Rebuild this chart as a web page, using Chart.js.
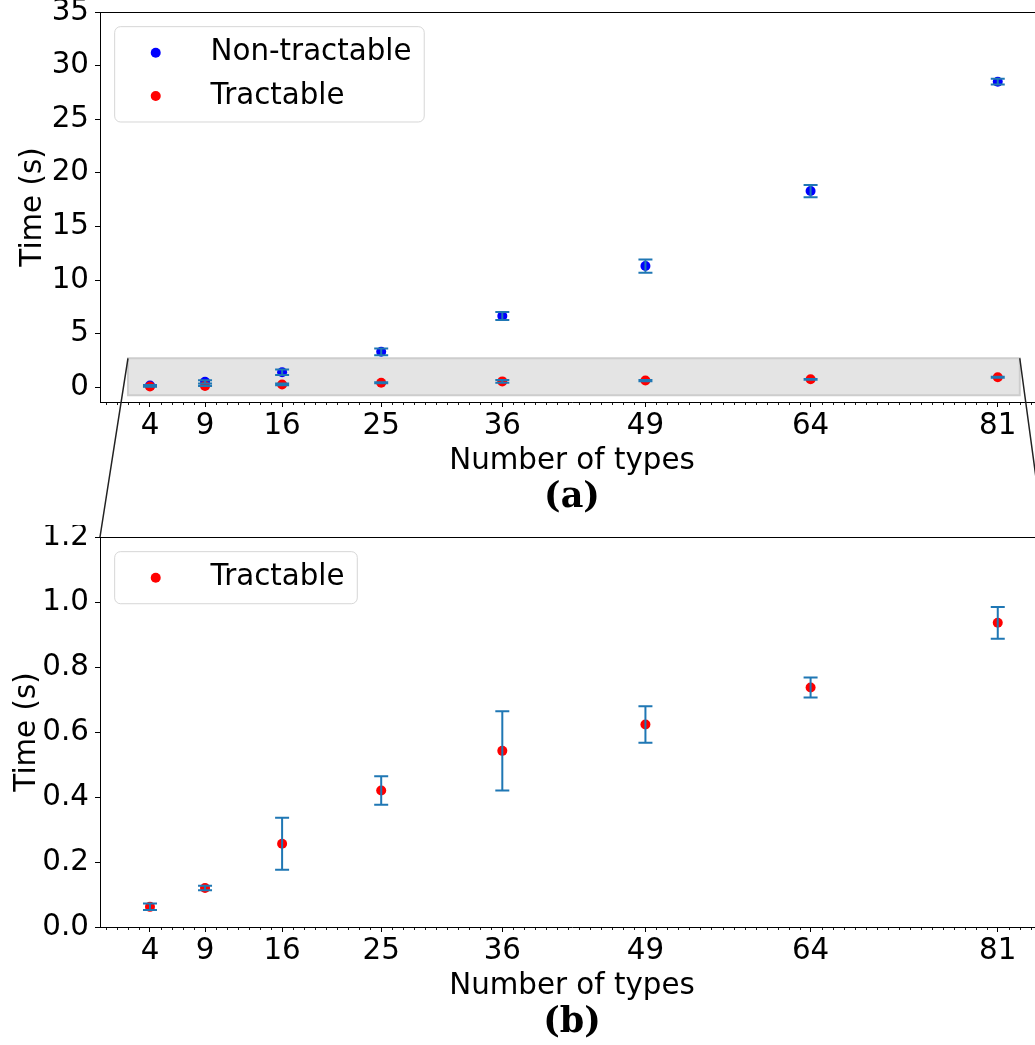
<!DOCTYPE html>
<html>
<head>
<meta charset="utf-8">
<script src="https://cdn.jsdelivr.net/npm/chart.js@4.4.1/dist/chart.umd.min.js"></script>
<style>
  html, body { margin: 0; padding: 0; background: #fff; overflow: hidden; width: 1035px; height: 1045px; }
  #wrap { position: relative; width: 1035px; height: 1045px; overflow: hidden; background: #fff; }
  canvas { position: absolute; left: 0; }
  #topChart { top: 0; z-index: 2; }
  #bottomChart { top: 525px; z-index: 1; }
</style>
</head>
<body>
<div id="wrap">
  <canvas id="bottomChart" width="1050" height="525"></canvas>
  <canvas id="topChart" width="1050" height="540"></canvas>
</div>
<script>
// Measured run times (seconds) per number of types
const numTypes = [4, 9, 16, 25, 36, 49, 64, 81];
const nonTractableTime = [0.15, 0.5, 1.4, 3.3, 6.65, 11.3, 18.3, 28.5];
const nonTractableErr = [0.05, 0.15, 0.26, 0.31, 0.37, 0.62, 0.57, 0.27];
const tractableTime = [0.062, 0.12, 0.256, 0.42, 0.542, 0.623, 0.737, 0.936];
const tractableErr = [0.01, 0.007, 0.08, 0.044, 0.122, 0.056, 0.031, 0.049];

// Axis ticks
const xTicks = [4, 9, 16, 25, 36, 49, 64, 81];
const yTicksTop = [0, 5, 10, 15, 20, 25, 30, 35];
const yTicksBottom = [0, 0.2, 0.4, 0.6, 0.8, 1.0, 1.2];

// Highlighted region of the upper panel that the lower panel enlarges
const zoomRegionX = [2, 83];
const zoomRegionY = [-0.75, 2.7];

const FS = 29.33;
const TITLE_FS = 35;
const BLUE = '#0000ff';
const RED = '#ff0000';
const ERR_COLOR = '#1f77b4';

Chart.defaults.font.family = 'DejaVu Sans';
Chart.defaults.color = '#000';

function points(xs, ys) {
  return xs.map((x, i) => ({ x: x, y: ys[i] }));
}

// Vertical error bars with caps, drawn on top of the markers
const errorBars = {
  id: 'errorBars',
  afterDatasetsDraw(chart) {
    const ctx = chart.ctx;
    const xs = chart.scales.x, ys = chart.scales.y;
    ctx.save();
    ctx.strokeStyle = ERR_COLOR;
    ctx.lineWidth = 2;
    chart.data.datasets.forEach(ds => {
      if (!ds.errors) return;
      ds.data.forEach((p, i) => {
        const e = ds.errors[i];
        const px = xs.getPixelForValue(p.x);
        const y1 = ys.getPixelForValue(p.y - e);
        const y2 = ys.getPixelForValue(p.y + e);
        ctx.beginPath();
        ctx.moveTo(px, y1); ctx.lineTo(px, y2);
        ctx.moveTo(px - 7, y1); ctx.lineTo(px + 7, y1);
        ctx.moveTo(px - 7, y2); ctx.lineTo(px + 7, y2);
        ctx.stroke();
      });
    });
    ctx.restore();
  }
};

// Minor x ticks at every integer and the top spine
const frameAndMinor = {
  id: 'frameAndMinor',
  afterDraw(chart) {
    const ctx = chart.ctx;
    const ca = chart.chartArea;
    const xs = chart.scales.x;
    ctx.save();
    ctx.strokeStyle = '#000';
    ctx.lineWidth = 1;
    ctx.beginPath();
    ctx.moveTo(ca.left, ca.top + 0.5);
    ctx.lineTo(ca.right, ca.top + 0.5);
    ctx.stroke();
    ctx.lineWidth = 0.9;
    ctx.beginPath();
    for (let v = Math.ceil(xs.min); v <= Math.floor(xs.max); v++) {
      if (xTicks.includes(v)) continue;
      const px = Math.round(xs.getPixelForValue(v)) + 0.5;
      ctx.moveTo(px, ca.bottom);
      ctx.lineTo(px, ca.bottom + 3);
    }
    ctx.stroke();
    ctx.restore();
  }
};

// Legend box inside the upper-left corner of the plot area
const insideLegend = {
  id: 'insideLegend',
  afterDraw(chart) {
    const ctx = chart.ctx;
    const ca = chart.chartArea;
    const pad = 0.4 * FS, handle = 2 * FS, gap = 0.8 * FS + 2, spacing = 0.5 * FS, axPad = 0.5 * FS;
    const rowH = 28.6;
    const items = chart.data.datasets.map(d => ({ label: d.label, color: d.backgroundColor }));
    ctx.save();
    ctx.font = FS + 'px "DejaVu Sans"';
    const textW = Math.max(...items.map(it => ctx.measureText(it.label).width));
    const left = ca.left + axPad, top = ca.top + axPad;
    const w = 2 * pad + handle + gap + textW + 1;
    const h = 2 * pad + items.length * rowH + (items.length - 1) * spacing;
    ctx.beginPath();
    ctx.roundRect(left, top, w, h, 0.2 * FS);
    ctx.fillStyle = 'rgba(255,255,255,0.8)';
    ctx.fill();
    ctx.strokeStyle = 'rgba(204,204,204,0.8)';
    ctx.lineWidth = 1;
    ctx.stroke();
    items.forEach((it, i) => {
      const cy = top + pad + i * (rowH + spacing) + rowH / 2;
      ctx.beginPath();
      ctx.arc(left + pad + handle / 2, cy, 5, 0, Math.PI * 2);
      ctx.fillStyle = it.color;
      ctx.fill();
      ctx.fillStyle = '#000';
      ctx.textBaseline = 'middle';
      ctx.textAlign = 'left';
      ctx.fillText(it.label, left + pad + handle + gap, cy);
    });
    ctx.restore();
  }
};

function xScale() {
  return {
    type: 'linear',
    min: -0.54,
    max: 85.2,
    afterBuildTicks: s => { s.ticks = xTicks.map(v => ({ value: v })); },
    afterFit: s => { s.paddingLeft = 0; s.paddingRight = 0; },
    ticks: { autoSkip: false, maxRotation: 0, minRotation: 0, padding: 2, font: { size: FS }, color: '#000' },
    grid: { drawOnChartArea: false, drawTicks: true, tickLength: 5, tickColor: '#000', tickWidth: 1 },
    border: { display: true, color: '#000', width: 1 },
    title: { display: true, text: 'Number of types', font: { size: FS }, color: '#000', padding: { top: -2.8, bottom: 0 } }
  };
}

function yScale(min, max, ticks, fmt, titlePad) {
  return {
    type: 'linear',
    min: min,
    max: max,
    afterBuildTicks: s => { s.ticks = ticks.map(v => ({ value: v })); },
    afterFit: s => { s.width = 100; s.paddingTop = 0; s.paddingBottom = 0; },
    ticks: { padding: 6, font: { size: FS }, color: '#000', callback: fmt },
    grid: { drawOnChartArea: false, drawTicks: true, tickLength: 5, tickColor: '#000', tickWidth: 1 },
    border: { display: true, color: '#000', width: 1 },
    title: { display: true, text: 'Time (s)', font: { size: FS }, color: '#000', padding: { top: titlePad, bottom: 0 } }
  };
}

function panelTitle(text) {
  return {
    display: true,
    text: text,
    position: 'bottom',
    fullSize: false,
    font: { family: 'DejaVu Serif', weight: 'bold', size: TITLE_FS },
    color: '#000',
    padding: { top: -1.6, bottom: 0 }
  };
}

// Lower panel: tractable run times only
const bottomChart = new Chart(document.getElementById('bottomChart'), {
  type: 'scatter',
  data: {
    datasets: [{
      label: 'Tractable',
      data: points(numTypes, tractableTime),
      errors: tractableErr,
      backgroundColor: RED,
      borderWidth: 0,
      pointRadius: 5,
      pointHoverRadius: 5
    }]
  },
  options: {
    responsive: false,
    animation: false,
    events: [],
    layout: { padding: { top: 12, left: 0, right: 6, bottom: 6 } },
    scales: {
      x: xScale(),
      y: yScale(0, 1.2, yTicksBottom, v => v.toFixed(1), 9.6)
    },
    plugins: {
      legend: { display: false },
      tooltip: { enabled: false },
      title: panelTitle('(b)')
    }
  },
  plugins: [errorBars, frameAndMinor, insideLegend]
});

// Shaded zoom region in the upper panel and the lines joining it to the lower panel
const zoomRegion = {
  id: 'zoomRegion',
  beforeDatasetsDraw(chart) {
    const ctx = chart.ctx;
    const xs = chart.scales.x, ys = chart.scales.y;
    const x0 = xs.getPixelForValue(zoomRegionX[0]), x1 = xs.getPixelForValue(zoomRegionX[1]);
    const y0 = ys.getPixelForValue(zoomRegionY[1]), y1 = ys.getPixelForValue(zoomRegionY[0]);
    ctx.save();
    ctx.fillStyle = '#e4e4e4';
    ctx.fillRect(x0, y0, x1 - x0, y1 - y0);
    ctx.strokeStyle = '#cdcdcd';
    ctx.lineWidth = 2;
    ctx.strokeRect(x0, y0, x1 - x0, y1 - y0);
    ctx.restore();
  },
  afterDraw(chart) {
    const ctx = chart.ctx;
    const xs = chart.scales.x, ys = chart.scales.y;
    const x0 = xs.getPixelForValue(zoomRegionX[0]), x1 = xs.getPixelForValue(zoomRegionX[1]);
    const yTop = ys.getPixelForValue(zoomRegionY[1]);
    const offset = bottomChart.canvas.offsetTop - chart.canvas.offsetTop;
    const ba = bottomChart.chartArea;
    ctx.save();
    ctx.strokeStyle = '#222';
    ctx.lineWidth = 1.5;
    ctx.beginPath();
    ctx.moveTo(x0, yTop); ctx.lineTo(ba.left, ba.top + offset);
    ctx.moveTo(x1, yTop); ctx.lineTo(ba.right, ba.top + offset);
    ctx.stroke();
    ctx.restore();
  }
};

// Upper panel: both solver variants
new Chart(document.getElementById('topChart'), {
  type: 'scatter',
  data: {
    datasets: [{
      label: 'Non-tractable',
      data: points(numTypes, nonTractableTime),
      errors: nonTractableErr,
      backgroundColor: BLUE,
      borderWidth: 0,
      pointRadius: 5,
      pointHoverRadius: 5,
      order: 2
    }, {
      label: 'Tractable',
      data: points(numTypes, tractableTime),
      errors: tractableErr,
      backgroundColor: RED,
      borderWidth: 0,
      pointRadius: 5,
      pointHoverRadius: 5,
      order: 1
    }]
  },
  options: {
    responsive: false,
    animation: false,
    events: [],
    layout: { padding: { top: 12, left: 0, right: 6, bottom: 21 } },
    scales: {
      x: xScale(),
      y: yScale(-1.38, 35, yTicksTop, v => String(v), 15.6)
    },
    plugins: {
      legend: { display: false },
      tooltip: { enabled: false },
      title: panelTitle('(a)')
    }
  },
  plugins: [zoomRegion, errorBars, frameAndMinor, insideLegend]
});
</script>
</body>
</html>
